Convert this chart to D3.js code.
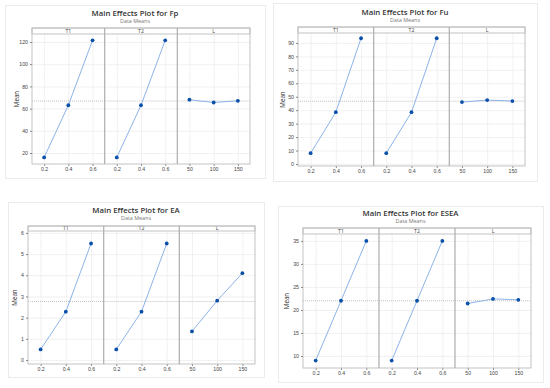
<!DOCTYPE html>
<html>
<head>
<meta charset="utf-8">
<script src="https://cdn.jsdelivr.net/npm/d3@7"></script>
<style>
  body { margin: 0; background: #fff; }
  svg { display: block; font-family: "Open Sans", "Noto Sans", sans-serif; }
</style>
</head>
<body>
<div id="chart"></div>
<script>
// factor names and levels
var factors = ["T1", "T2", "L"];
var levelsT = ["0.2", "0.4", "0.6"];
var levelsL = ["50", "100", "150"];

// means (T1, T2, L)
var fpT1 = [16, 63, 121.5], fpT2 = [16, 63, 121.5], fpL = [68, 65.5, 67];
var fuT1 = [8, 38.5, 93.5], fuT2 = [8, 38.5, 93.5], fuL = [46, 47.5, 46.8];
var eaT1 = [0.5, 2.28, 5.5], eaT2 = [0.5, 2.28, 5.5], eaL = [1.35, 2.8, 4.1];
var eseaT1 = [9, 22, 35], eseaT2 = [9, 22, 35], eseaL = [21.4, 22.4, 22.2];

// y tick labels
var fpTicks = [20, 40, 60, 80, 100, 120];
var fuTicks = [0, 10, 20, 30, 40, 50, 60, 70, 80, 90];
var eaTicks = [0, 1, 2, 3, 4, 5, 6];
var eseaTicks = [10, 15, 20, 25, 30, 35];

var titles = ["Main Effects Plot for Fp", "Main Effects Plot for Fu", "Main Effects Plot for EA", "Main Effects Plot for ESEA"];

var COLORS = {
	line: "#8db3e8",
	point: "#0a4fa8",
	grid: "#eeeeee",
	frame: "#bdbdbd",
	divider: "#b3b3b3",
	ref: "#a8a8a8"
};

// layout of each card (pixels)
var charts = [
	{title: titles[0], series: [fpT1, fpT2, fpL], ticks: fpTicks, yDomain: [10.1, 127.2],
		card: [5, 5, 265, 178], titleY: 16, plot: {L: 32, R: 250, ST: 28, SB: 34, B: 164}, meanX: 17},
	{title: titles[1], series: [fuT1, fuT2, fuL], ticks: fuTicks, yDomain: [-1.5, 97.4],
		card: [273, 3, 537, 181], titleY: 15, plot: {L: 298, R: 525, ST: 27, SB: 33, B: 166}, meanX: 283},
	{title: titles[2], series: [eaT1, eaT2, eaL], ticks: eaTicks, yDomain: [-0.19, 6.09],
		card: [8, 202, 264, 377], titleY: 213, plot: {L: 28, R: 255, ST: 226, SB: 231, B: 364}, meanX: 15},
	{title: titles[3], series: [eseaT1, eseaT2, eseaL], ticks: eseaTicks, yDomain: [7.39, 36.5],
		card: [278, 206, 543, 382], titleY: 216, plot: {L: 303, R: 531, ST: 228, SB: 234, B: 368}, meanX: 287}
];

var svg = d3.select("#chart").append("svg")
	.attr("width", 550)
	.attr("height", 388);

charts.forEach(function(c) { drawChart(svg, c); });

function drawChart(svg, c) {
	var p = c.plot;
	var g = svg.append("g");

	// card background
	g.append("rect")
		.attr("x", c.card[0] + 0.5).attr("y", c.card[1] + 0.5)
		.attr("width", c.card[2] - c.card[0]).attr("height", c.card[3] - c.card[1])
		.attr("fill", "#fff").attr("stroke", "#ebebeb");

	var cx = (c.card[0] + c.card[2]) / 2;
	g.append("text")
		.attr("x", cx).attr("y", c.titleY)
		.attr("text-anchor", "middle")
		.attr("font-size", 7.8).attr("font-weight", 600).attr("fill", "#333")
		.text(c.title);
	g.append("text")
		.attr("x", cx).attr("y", c.titleY + 7)
		.attr("text-anchor", "middle")
		.attr("font-size", 5.4).attr("fill", "#777")
		.text("Data Means");

	var yScale = d3.scaleLinear().domain(c.yDomain).range([p.B, p.SB]);
	var panelScale = d3.scaleBand().domain(factors).range([p.L, p.R]).paddingInner(0).paddingOuter(0);

	// horizontal grid
	g.append("g").selectAll("line")
		.data(c.ticks)
		.enter().append("line")
		.attr("x1", p.L).attr("x2", p.R)
		.attr("y1", function(d) { return yScale(d) + 0.5; })
		.attr("y2", function(d) { return yScale(d) + 0.5; })
		.attr("stroke", COLORS.grid).attr("stroke-width", 0.8);

	var grand = d3.mean(c.series[0]);

	factors.forEach(function(f, i) {
		var levels = f === "L" ? levelsL : levelsT;
		var x0 = panelScale(f);
		var xScale = d3.scalePoint().domain(levels)
			.range([x0, x0 + panelScale.bandwidth()]).padding(0.5);

		// vertical grid
		g.append("g").selectAll("line")
			.data(levels)
			.enter().append("line")
			.attr("x1", function(d) { return xScale(d) + 0.5; })
			.attr("x2", function(d) { return xScale(d) + 0.5; })
			.attr("y1", p.SB).attr("y2", p.B)
			.attr("stroke", COLORS.grid).attr("stroke-width", 0.8);

		// x axis
		var ax = g.append("g")
			.attr("transform", "translate(0," + p.B + ")")
			.call(d3.axisBottom(xScale).tickSize(2).tickSizeOuter(0).tickPadding(1.5));
		ax.select(".domain").remove();
		ax.selectAll("line").attr("stroke", "#888");
		ax.selectAll("text").attr("font-size", 5.2).attr("fill", "#444").attr("font-family", "inherit");

		// strip label
		g.append("text")
			.attr("x", x0 + panelScale.bandwidth() / 2)
			.attr("y", (p.ST + p.SB) / 2 + 1.8)
			.attr("text-anchor", "middle")
			.attr("font-size", 5.2).attr("fill", "#444")
			.text(f);

		// grand mean reference line
		g.append("line")
			.attr("x1", x0).attr("x2", x0 + panelScale.bandwidth())
			.attr("y1", yScale(grand)).attr("y2", yScale(grand))
			.attr("stroke", COLORS.ref).attr("stroke-width", 0.7)
			.attr("stroke-dasharray", "1,1");

		var vals = c.series[i];
		var line = d3.line()
			.x(function(d, j) { return xScale(levels[j]); })
			.y(function(d) { return yScale(d); });

		g.append("path")
			.datum(vals)
			.attr("d", line)
			.attr("fill", "none")
			.attr("stroke", COLORS.line).attr("stroke-width", 1);

		g.append("g").selectAll("circle")
			.data(vals)
			.enter().append("circle")
			.attr("cx", function(d, j) { return xScale(levels[j]); })
			.attr("cy", function(d) { return yScale(d); })
			.attr("r", 1.9)
			.attr("fill", COLORS.point);
	});

	// strip box and frame
	g.append("rect")
		.attr("x", p.L).attr("y", p.ST)
		.attr("width", p.R - p.L).attr("height", p.SB - p.ST)
		.attr("fill", "none").attr("stroke", COLORS.frame).attr("stroke-width", 0.9);
	g.append("rect")
		.attr("x", p.L).attr("y", p.ST)
		.attr("width", p.R - p.L).attr("height", p.B - p.ST)
		.attr("fill", "none").attr("stroke", COLORS.frame).attr("stroke-width", 0.9);

	// panel dividers
	g.append("g").selectAll("line")
		.data(factors.slice(1))
		.enter().append("line")
		.attr("x1", function(d) { return panelScale(d); })
		.attr("x2", function(d) { return panelScale(d); })
		.attr("y1", p.ST).attr("y2", p.B)
		.attr("stroke", COLORS.divider).attr("stroke-width", 1.3);

	// y axis
	var ay = g.append("g")
		.attr("transform", "translate(" + p.L + ",0)")
		.call(d3.axisLeft(yScale).tickValues(c.ticks).tickFormat(d3.format("d")).tickSize(2).tickPadding(2));
	ay.select(".domain").remove();
	ay.selectAll("line").attr("stroke", "#888");
	ay.selectAll("text").attr("font-size", 5.2).attr("fill", "#444").attr("font-family", "inherit");

	g.append("text")
		.attr("transform", "translate(" + c.meanX + "," + (p.SB + p.B) / 2 + ") rotate(-90)")
		.attr("text-anchor", "middle")
		.attr("dy", "0.35em")
		.attr("font-size", 6.2).attr("fill", "#333")
		.text("Mean");
}
</script>
</body>
</html>
